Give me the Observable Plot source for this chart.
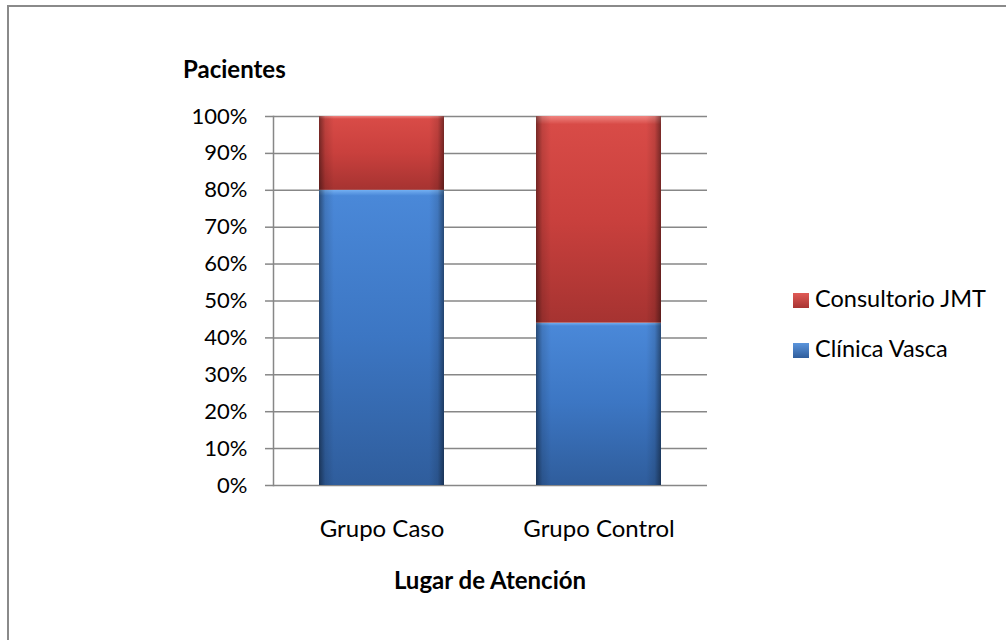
<!DOCTYPE html>
<html>
<head>
<meta charset="utf-8">
<script src="https://cdn.jsdelivr.net/npm/d3@7"></script>
<script src="https://cdn.jsdelivr.net/npm/@observablehq/plot@0.6"></script>
<style>
  body { margin: 0; background: #fff; }
  #wrap { position: relative; width: 1006px; height: 640px; overflow: hidden; background: #fff; font-family: Lato, "Open Sans", sans-serif; color: #000; }
  #frame { position: absolute; left: 7px; top: 5px; width: 1100px; height: 700px; border-left: 2px solid #8a8a8a; border-top: 2px solid #8a8a8a; box-sizing: border-box; }
  #chart { position: absolute; left: 0; top: 0; }
  .title { position: absolute; font-weight: bold; font-size: 24px; white-space: nowrap; line-height: 1; }
  #ytitle { left: 183px; top: 57px; }
  #xtitle { left: 490px; top: 568px; transform: translateX(-50%); }
  #legend { position: absolute; left: 793px; top: 287px; font-size: 23.5px; }
  .item { position: absolute; left: 0; white-space: nowrap; line-height: 1; }
  .sw { display: inline-block; width: 16px; height: 15px; vertical-align: -1px; margin-right: 6px; }
</style>
</head>
<body>
<div id="wrap">
  <div id="frame"></div>
  <div id="chart"></div>
  <div id="ytitle" class="title">Pacientes</div>
  <div id="xtitle" class="title">Lugar de Atención</div>
  <div id="legend"></div>
</div>
<script>
// ---- data ----
const grupos = ["Grupo Caso", "Grupo Control"];
const series = ["Clínica Vasca", "Consultorio JMT"];
const clinicaVasca = [0.80, 0.44];
const consultorioJMT = [0.20, 0.56];
const yTicks = [0, 0.1, 0.2, 0.3, 0.4, 0.5, 0.6, 0.7, 0.8, 0.9, 1.0];
const legendOrder = ["Consultorio JMT", "Clínica Vasca"];

const rows = [];
grupos.forEach((g, i) => rows.push({grupo: g, serie: series[0], valor: clinicaVasca[i]}));
grupos.forEach((g, i) => rows.push({grupo: g, serie: series[1], valor: consultorioJMT[i]}));

const gridColor = "#878787";

const chart = Plot.plot({
  width: 1006,
  height: 640,
  marginLeft: 273,
  marginRight: 299,
  marginTop: 116,
  marginBottom: 155,
  style: {fontFamily: "Lato, 'Open Sans', sans-serif", fontSize: "22px", color: "#000", background: "transparent", overflow: "visible"},
  x: {domain: grupos, paddingInner: 0.424, paddingOuter: 0.212, label: null},
  y: {domain: [0, 1], label: null},
  color: {domain: series, range: ["url(#gBlue)", "url(#gRed)"]},
  marks: [
    Plot.gridY(yTicks, {stroke: gridColor, strokeOpacity: 1, strokeWidth: 1.5}),
    Plot.axisY(yTicks, {tickFormat: d3.format(".0%"), tickSize: 8, tickPadding: 18, stroke: gridColor, strokeOpacity: 1, strokeWidth: 1.5, fontSize: 22, fill: "#000", label: null}),
    Plot.frame({anchor: "left", stroke: gridColor, strokeWidth: 1.5}),
    Plot.barY(rows, {x: "grupo", y: "valor", fill: "serie", className: "bars"}),
    Plot.axisX({tickSize: 0, tickPadding: 34, fontSize: 24, fill: "#000", label: null})
  ]
});

// gradients for the bevelled look
const svg = d3.select(chart);
const defs = svg.insert("defs", ":first-child");
function vgrad(id, stops) {
  const g = defs.append("linearGradient").attr("id", id).attr("x1", 0).attr("y1", 0).attr("x2", 0).attr("y2", 1);
  stops.forEach(([o, c, op]) => g.append("stop").attr("offset", o).attr("stop-color", c).attr("stop-opacity", op == null ? 1 : op));
}
vgrad("gBlue", [[0, "#74b0f2"], [0.02, "#4a88d8"], [0.5, "#3c76c3"], [1, "#2f5d9c"]]);
vgrad("gRed", [[0, "#f08480"], [0.04, "#d84b47"], [0.5, "#c9403d"], [1, "#a63331"]]);
const hg = defs.append("linearGradient").attr("id", "gEdge").attr("x1", 0).attr("y1", 0).attr("x2", 1).attr("y2", 0);
[[0, 0.45], [0.05, 0.12], [0.12, 0], [0.88, 0], [0.95, 0.12], [1, 0.45]].forEach(([o, a]) =>
  hg.append("stop").attr("offset", o).attr("stop-color", "#000").attr("stop-opacity", a));

svg.selectAll(".bars rect").each(function() {
  const r = this;
  const c = r.cloneNode(false);
  c.setAttribute("fill", "url(#gEdge)");
  r.parentNode.insertBefore(c, r.nextSibling);
});

document.getElementById("chart").appendChild(chart);

// legend
const legend = document.getElementById("legend");
legendOrder.forEach((s, i) => {
  const it = document.createElement("div");
  it.className = "item";
  it.style.top = (i * 50) + "px";
  const sw = document.createElement("span");
  sw.className = "sw";
  sw.style.background = s === series[0]
    ? "linear-gradient(#5b95dc, #2f5d9c)"
    : "linear-gradient(#e05a56, #a83432)";
  it.appendChild(sw);
  it.appendChild(document.createTextNode(s));
  legend.appendChild(it);
});
</script>
</body>
</html>
